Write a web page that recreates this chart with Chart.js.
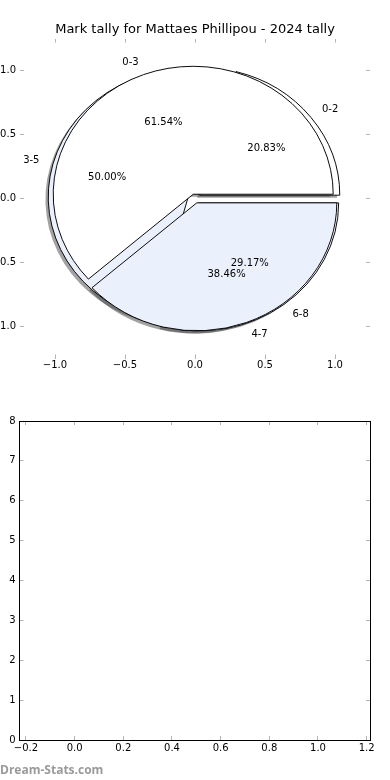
<!DOCTYPE html>
<html>
<head>
<meta charset="utf-8">
<script src="https://cdn.jsdelivr.net/npm/chart.js@4.4.1/dist/chart.umd.min.js"></script>
<style>
html,body{margin:0;padding:0;background:#fff;}
#wrap{position:relative;width:390px;height:780px;overflow:hidden;background:#fff;}
#c1{position:absolute;left:0;top:0;}
#c2{position:absolute;left:0;top:390px;}
#wm{position:absolute;left:0;top:761px;font:bold 12px 'Open Sans',sans-serif;color:#9a9a9a;white-space:nowrap;}
</style>
</head>
<body>
<div id="wrap">
<canvas id="c1" width="390" height="390"></canvas>
<canvas id="c2" width="390" height="390"></canvas>
<div id="wm">Dream-Stats.com</div>
</div>
<script>
// ---- data ----
const chartTitle = 'Mark tally for Mattaes Phillipou - 2024 tally';
const rangesA = ['0-2', '3-5', '6-8'];
const countsA = [5, 12, 7];
const explodeA = [0.043, 0.05, 0.043];
const colorsA = ['#ffffff', '#ebf1fc', '#ffffff'];
const rangesB = ['0-3', '4-7'];
const countsB = [8, 5];
const explodeB = [0.036, 0.036];
const colorsB = ['#ffffff', '#ebf1fc'];
const pieAxisTicks = [-1.0, -0.5, 0.0, 0.5, 1.0];
const emptyXTicks = [-0.2, 0.0, 0.2, 0.4, 0.6, 0.8, 1.0, 1.2];
const emptyYTicks = [0, 1, 2, 3, 4, 5, 6, 7, 8];

const FONT = 'DejaVu Sans';
const TICKGRAY = '#b4b4b4';
const fmt1 = v => (v < 0 ? '\u2212' : '') + Math.abs(v).toFixed(1);
const fmt0 = v => (v < 0 ? '\u2212' : '') + Math.abs(v).toFixed(0);

function axis(pos, opts) {
  return Object.assign({
    type: 'linear',
    position: pos,
    grid: { drawOnChartArea: false, drawTicks: true, tickLength: -4, color: TICKGRAY, tickColor: TICKGRAY, tickWidth: 1 },
    border: { display: false },
    ticks: { display: false, font: { family: FONT, size: 10 }, color: '#000' }
  }, opts);
}

// ---- pie geometry helpers ----
function geom(chart) {
  const xs = chart.scales.x, ys = chart.scales.y;
  const cx = xs.getPixelForValue(0), cy = ys.getPixelForValue(0);
  const R = xs.getPixelForValue(1) - cx;
  const k = (cy - ys.getPixelForValue(1)) / R;
  return { cx, cy, R, k };
}
function applyEllipse(ctx, g) {
  ctx.translate(g.cx, g.cy);
  ctx.scale(1, -g.k);
  ctx.translate(-g.cx, -g.cy);
}

const overlayPie = {
  id: 'overlayPie',
  afterDatasetsUpdate(chart) {
    const g = geom(chart);
    chart.data.datasets.forEach((ds, di) => {
      const meta = chart.getDatasetMeta(di);
      meta.data.forEach((arc, i) => {
        const mid = (arc.startAngle + arc.endAngle) / 2;
        const d = ds.explode[i] * g.R;
        arc.x = g.cx + d * Math.cos(mid);
        arc.y = g.cy + d * Math.sin(mid);
        arc.innerRadius = 0;
        arc.outerRadius = g.R;
      });
    });
  },
  beforeDatasetsDraw(chart) {
    const ctx = chart.ctx, g = geom(chart);
    const metas = chart.getSortedVisibleDatasetMetas().slice().reverse();
    // shadows under every wedge
    ctx.save();
    ctx.translate(-0.02 * g.R, 0.02 * g.R * g.k);
    applyEllipse(ctx, g);
    metas.forEach(meta => meta.data.forEach(arc => {
      const saved = arc.options;
      arc.options = Object.assign({}, saved, { backgroundColor: 'rgba(70,70,70,0.5)', borderColor: 'rgba(70,70,70,0.5)', borderWidth: 0 });
      arc.draw(ctx);
      arc.options = saved;
    }));
    ctx.restore();
    ctx.save();
    applyEllipse(ctx, g);
  },
  afterDatasetsDraw(chart) {
    chart.ctx.restore();
  },
  afterDraw(chart) {
    const ctx = chart.ctx, g = geom(chart);
    ctx.save();
    ctx.font = '10px "' + FONT + '"';
    ctx.fillStyle = '#000';
    ctx.textBaseline = 'middle';
    chart.data.datasets.forEach((ds, di) => {
      const meta = chart.getDatasetMeta(di);
      const total = ds.data.reduce((a, b) => a + b, 0);
      meta.data.forEach((arc, i) => {
        const mid = (arc.startAngle + arc.endAngle) / 2;
        const pt = r => [arc.x + r * Math.cos(mid), g.cy - g.k * (arc.y + r * Math.sin(mid) - g.cy)];
        const [px, py] = pt(0.6 * g.R);
        ctx.textAlign = 'center';
        ctx.fillText((100 * ds.data[i] / total).toFixed(2) + '%', px, py);
        const [lx, ly] = pt(1.1 * g.R);
        ctx.textAlign = lx > g.cx ? 'left' : 'right';
        ctx.fillText(ds.rangeLabels[i], lx, ly);
      });
    });
    ctx.restore();
  }
};

// ---- top chart: two overlaid pies on visible axes ----
new Chart(document.getElementById('c1'), {
  type: 'pie',
  data: {
    labels: rangesA,
    datasets: [
      { data: countsA, rangeLabels: rangesA, explode: explodeA, backgroundColor: colorsA, borderColor: '#000', borderWidth: 1, order: 1, rotation: 90, hoverOffset: 0 },
      { data: countsB, rangeLabels: rangesB, explode: explodeB, backgroundColor: colorsB, borderColor: '#000', borderWidth: 1, order: 0, rotation: 90, hoverOffset: 0 }
    ]
  },
  options: {
    responsive: false,
    animation: false,
    events: [],
    rotation: 90,
    layout: { padding: 0 },
    plugins: {
      legend: { display: false },
      tooltip: { enabled: false },
      title: { display: true, text: chartTitle, color: '#000', font: { family: FONT, size: 13, weight: 'normal' }, padding: { top: 22, bottom: 1 } }
    },
    scales: {
      x: axis('bottom', { min: -1.25, max: 1.25,
        afterBuildTicks: s => { s.ticks = pieAxisTicks.map(v => ({ value: v })); },
        afterFit: s => { s.height = 31.5; },
        ticks: { display: true, padding: 4.5, font: { family: FONT, size: 10 }, color: '#000', callback: fmt1 } }),
      x2: axis('top', { min: -1.25, max: 1.25,
        afterBuildTicks: s => { s.ticks = pieAxisTicks.map(v => ({ value: v })); },
        afterFit: s => { s.height = 0; } }),
      y: axis('left', { min: -1.25, max: 1.25,
        afterBuildTicks: s => { s.ticks = pieAxisTicks.map(v => ({ value: v })); },
        afterFit: s => { s.width = 20; },
        ticks: { display: true, padding: 8, font: { family: FONT, size: 10 }, color: '#000', callback: fmt1 } }),
      y2: axis('right', { min: -1.25, max: 1.25,
        afterBuildTicks: s => { s.ticks = pieAxisTicks.map(v => ({ value: v })); },
        afterFit: s => { s.width = 20; } })
    }
  },
  plugins: [overlayPie]
});

// ---- bottom chart: empty axes ----
const boxBorder = { display: true, color: '#000', width: 1 };
new Chart(document.getElementById('c2'), {
  type: 'scatter',
  data: { datasets: [] },
  options: {
    responsive: false,
    animation: false,
    events: [],
    layout: { padding: 0 },
    plugins: { legend: { display: false }, tooltip: { enabled: false } },
    scales: {
      x: axis('bottom', { min: -0.2265, max: 1.2137, border: boxBorder,
        afterBuildTicks: s => { s.ticks = emptyXTicks.map(v => ({ value: v })); },
        afterFit: s => { s.height = 40; },
        ticks: { display: true, padding: 6, maxRotation: 0, autoSkip: false, font: { family: FONT, size: 10 }, color: '#000', callback: fmt1 } }),
      x2: axis('top', { min: -0.2265, max: 1.2137, border: boxBorder,
        afterBuildTicks: s => { s.ticks = emptyXTicks.map(v => ({ value: v })); },
        afterFit: s => { s.height = 31; } }),
      y: axis('left', { min: 0, max: 8, border: boxBorder,
        afterBuildTicks: s => { s.ticks = emptyYTicks.map(v => ({ value: v })); },
        afterFit: s => { s.width = 19.5; },
        ticks: { display: true, padding: 8, autoSkip: false, font: { family: FONT, size: 10 }, color: '#000', callback: fmt0 } }),
      y2: axis('right', { min: 0, max: 8, border: boxBorder,
        afterBuildTicks: s => { s.ticks = emptyYTicks.map(v => ({ value: v })); },
        afterFit: s => { s.width = 20; } })
    }
  }
});
</script>
</body>
</html>
